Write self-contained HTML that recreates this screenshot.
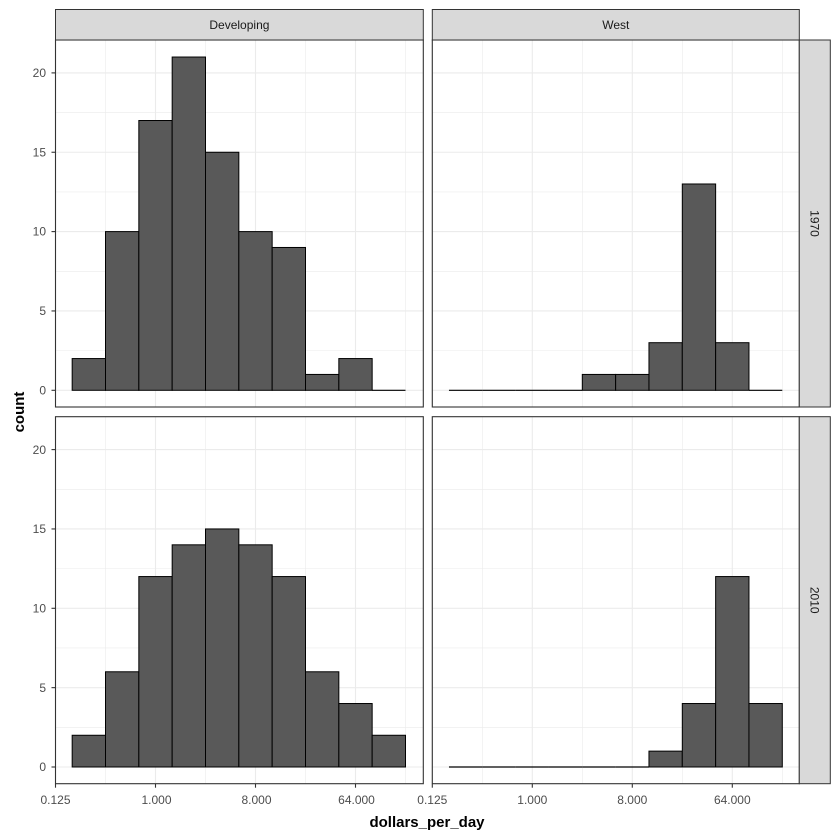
<!DOCTYPE html>
<html><head><meta charset="utf-8"><style>body{margin:0;background:#fff}svg{display:block}text{font-family:"Liberation Sans",Arial,sans-serif}</style></head>
<body>
<svg id="s" width="840" height="840" xmlns="http://www.w3.org/2000/svg">
<rect width="840" height="840" fill="#fff"/>
<g id="g"></g>
<!-- strips -->
<rect x="55.5" y="9.5" width="367.8" height="30.5" fill="#d9d9d9" stroke="#333" stroke-width="1"/>
<rect x="432.3" y="9.5" width="367" height="30.5" fill="#d9d9d9" stroke="#333" stroke-width="1"/>
<rect x="799.3" y="40" width="31" height="367" fill="#d9d9d9" stroke="#333" stroke-width="1"/>
<rect x="799.3" y="416.7" width="31" height="367" fill="#d9d9d9" stroke="#333" stroke-width="1"/>
<g font-size="12" fill="#1a1a1a" text-anchor="middle">
<text x="239.4" y="29">Developing</text>
<text x="615.8" y="29">West</text>
<text transform="translate(810.5,223.5) rotate(90)">1970</text>
<text transform="translate(810.5,600.2) rotate(90)">2010</text>
</g>
<g font-size="12" fill="#4d4d4d" text-anchor="end">
<text x="46" y="394.5">0</text><text x="46" y="315">5</text><text x="46" y="235.7">10</text><text x="46" y="156.3">15</text><text x="46" y="77">20</text>
<text x="46" y="771.2">0</text><text x="46" y="691.8">5</text><text x="46" y="612.5">10</text><text x="46" y="533.1">15</text><text x="46" y="453.8">20</text>
</g>
<g font-size="12" fill="#4d4d4d" text-anchor="middle">
<text x="55.5" y="804">0.125</text><text x="156.5" y="804">1.000</text><text x="256.5" y="804">8.000</text><text x="356.5" y="804">64.000</text>
<text x="432.3" y="804">0.125</text><text x="532.3" y="804">1.000</text><text x="632.3" y="804">8.000</text><text x="732.3" y="804">64.000</text>
</g>
<text x="427" y="827" font-size="15" font-weight="bold" text-anchor="middle" fill="#000">dollars_per_day</text>
<text transform="translate(24,412) rotate(-90)" font-size="15" font-weight="bold" text-anchor="middle" fill="#000">count</text>
</svg>
<script>
var g=document.getElementById('g'),NS='http://www.w3.org/2000/svg';
function el(t,a){var e=document.createElementNS(NS,t);for(var k in a)e.setAttribute(k,a[k]);g.appendChild(e);return e;}
var P=[
 {x0:55.5,x1:423.3,y0:40,y1:407,z:390.3,c:[2,10,17,21,15,10,9,1,2,0]},
 {x0:432.3,x1:799.3,y0:40,y1:407,z:390.3,c:[0,0,0,0,1,1,3,13,3,0]},
 {x0:55.5,x1:423.3,y0:416.7,y1:783.7,z:767,c:[2,6,12,14,15,14,12,6,4,2]},
 {x0:432.3,x1:799.3,y0:416.7,y1:783.7,z:767,c:[0,0,0,0,0,0,1,4,12,4]}];
var u=15.87,w=100/3;
P.forEach(function(p,i){
 el('rect',{x:p.x0,y:p.y0,width:p.x1-p.x0,height:p.y1-p.y0,fill:'#fff'});
 for(var k=0;k<8;k++){var x=p.x0+50*k;if(x<p.x1)el('line',{x1:x,x2:x,y1:p.y0,y2:p.y1,stroke:'#ebebeb','stroke-width':k%2?0.6:1.1});}
 for(var k=-1;k<=9;k++){var y=p.z-k*2.5*u;if(y>p.y0&&y<p.y1)el('line',{x1:p.x0,x2:p.x1,y1:y,y2:y,stroke:'#ebebeb','stroke-width':(k%2)?0.6:1.1});}
 p.c.forEach(function(c,j){var x=p.x0+w*(0.5+j);
  if(c>0)el('rect',{x:x,y:p.z-c*u,width:w,height:c*u,fill:'#595959',stroke:'#000','stroke-width':1});
  else el('line',{x1:x,x2:x+w,y1:p.z,y2:p.z,stroke:'#000','stroke-width':1.2});});
 el('rect',{x:p.x0,y:p.y0,width:p.x1-p.x0,height:p.y1-p.y0,fill:'none',stroke:'#333','stroke-width':1.1});
 if(i%2==0)for(var k=0;k<=4;k++){var y=p.z-k*5*u;el('line',{x1:p.x0-4,x2:p.x0,y1:y,y2:y,stroke:'#333','stroke-width':1.1});}
 if(i>=2)for(var k=0;k<4;k++){var x=p.x0+100*k;el('line',{x1:x,x2:x,y1:p.y1,y2:p.y1+4,stroke:'#333','stroke-width':1.1});}
});
</script>
</body></html>
